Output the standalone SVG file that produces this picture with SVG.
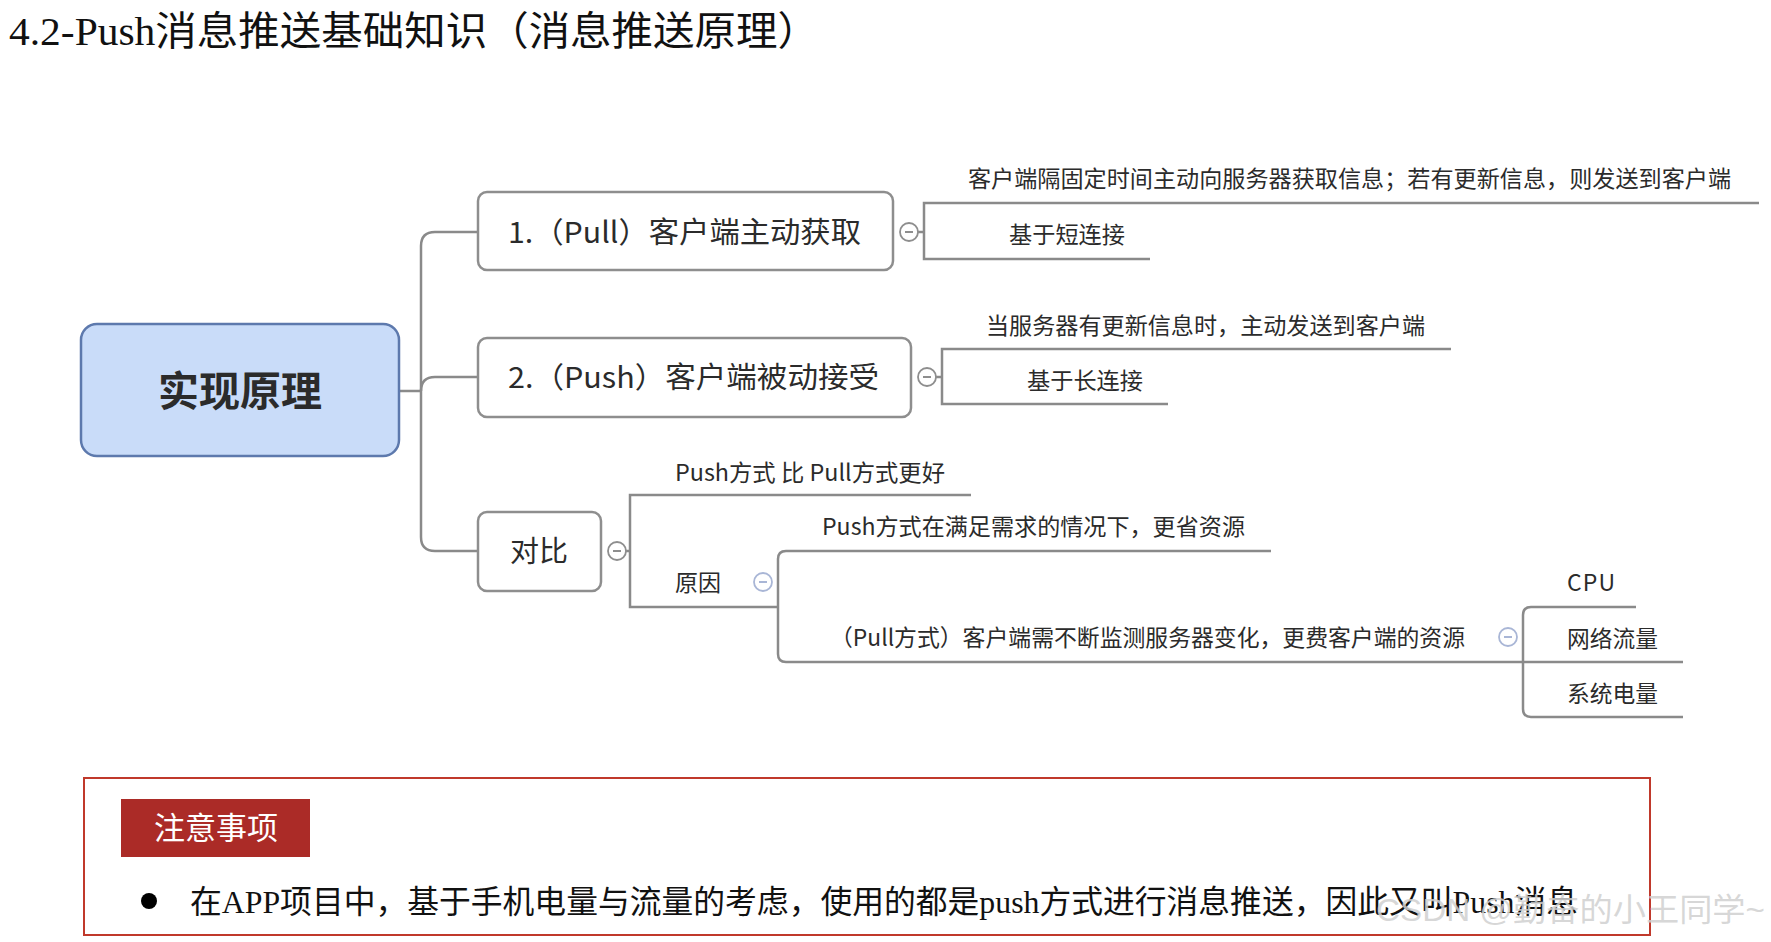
<svg xmlns="http://www.w3.org/2000/svg" width="1771" height="942" viewBox="0 0 1771 942">
<style>
.node{fill:#fff;stroke:#8e8e8e;stroke-width:2.5}
.con{fill:none;stroke:#8a8a8a;stroke-width:2.5}
.tog{fill:#fff;stroke:#8e8e8e;stroke-width:1.8}
.tog2{fill:#fff;stroke:#a9b6d6;stroke-width:1.8}
.dash{stroke:#8e8e8e;stroke-width:2}
.dash2{stroke:#a9b6d6;stroke-width:2}
.t{font-family:"Noto Sans CJK SC","Noto Sans",sans-serif;fill:#2b2b2b}
.s{font-family:"Liberation Serif","Noto Sans CJK SC",serif;fill:#111}
</style>
<rect width="1771" height="942" fill="#fff"/>
<text class="s" x="9" y="45" font-size="40" textLength="810" lengthAdjust="spacingAndGlyphs">4.2-Push消息推送基础知识（消息推送原理）</text>

<g id="connectors">
<path class="con" d="M399,391 H421"/>
<path class="con" d="M421,391 V246 Q421,232 435,232 H478"/>
<path class="con" d="M421,391 Q421,377 435,377 H478"/>
<path class="con" d="M421,391 V537 Q421,551 435,551 H478"/>
<path class="con" d="M918,232 H924"/>
<path class="con" d="M1759,203 H924 V259 H1150"/>
<path class="con" d="M936,377 H942"/>
<path class="con" d="M1451,349 H942 V404 H1168"/>
<path class="con" d="M626,551 H630"/>
<path class="con" d="M971,495 H630 V607 H778"/>
<path class="con" d="M1271,551 H786 Q778,551 778,559 V654 Q778,662 786,662 H1683"/>
<path class="con" d="M1636,607 H1531 Q1523,607 1523,615 V709 Q1523,717 1531,717 H1683"/>
</g>

<g id="root">
<rect x="81" y="324" width="318" height="132" rx="16" fill="#c9dcf9" stroke="#5d79ad" stroke-width="2.5"/>
<text class="t" x="240" y="406" font-size="41" font-weight="bold" text-anchor="middle" fill="#3a3a3a">实现原理</text>
</g>

<g id="pull">
<rect class="node" x="478" y="192" width="415" height="78" rx="9"/>
<text class="t" x="508" y="243" font-size="29" textLength="353" lengthAdjust="spacingAndGlyphs">1.（Pull）客户端主动获取</text>
<circle class="tog" cx="909" cy="232" r="9"/><line class="dash" x1="905" y1="232" x2="913" y2="232"/>
</g>
<g id="pull-desc"><text class="t" x="968" y="187" font-size="23" textLength="763" lengthAdjust="spacingAndGlyphs">客户端隔固定时间主动向服务器获取信息；若有更新信息，则发送到客户端</text></g>
<g id="pull-short"><text class="t" x="1009" y="243" font-size="23" textLength="116" lengthAdjust="spacingAndGlyphs">基于短连接</text></g>

<g id="push">
<rect class="node" x="478" y="338" width="433" height="79" rx="9"/>
<text class="t" x="508" y="388" font-size="29" textLength="371" lengthAdjust="spacingAndGlyphs">2.（Push）客户端被动接受</text>
<circle class="tog" cx="927" cy="377" r="9"/><line class="dash" x1="923" y1="377" x2="931" y2="377"/>
</g>
<g id="push-desc"><text class="t" x="986" y="334" font-size="23" textLength="439" lengthAdjust="spacingAndGlyphs">当服务器有更新信息时，主动发送到客户端</text></g>
<g id="push-long"><text class="t" x="1027" y="389" font-size="23" textLength="116" lengthAdjust="spacingAndGlyphs">基于长连接</text></g>

<g id="compare">
<rect class="node" x="478" y="512" width="123" height="79" rx="9"/>
<text class="t" x="539" y="562" font-size="29" text-anchor="middle">对比</text>
<circle class="tog" cx="617" cy="551" r="9"/><line class="dash" x1="613" y1="551" x2="621" y2="551"/>
</g>
<g id="better"><text class="t" x="675" y="481" font-size="23" textLength="270" lengthAdjust="spacingAndGlyphs">Push方式 比 Pull方式更好</text></g>
<g id="reason">
<text class="t" x="675" y="591" font-size="23" textLength="46" lengthAdjust="spacingAndGlyphs">原因</text>
<circle class="tog2" cx="763" cy="582" r="9"/><line class="dash2" x1="759" y1="582" x2="767" y2="582"/>
</g>
<g id="saves"><text class="t" x="822" y="535" font-size="23" textLength="423" lengthAdjust="spacingAndGlyphs">Push方式在满足需求的情况下，更省资源</text></g>
<g id="costs">
<text class="t" x="830" y="646" font-size="23" textLength="635" lengthAdjust="spacingAndGlyphs">（Pull方式）客户端需不断监测服务器变化，更费客户端的资源</text>
<circle class="tog2" cx="1508" cy="637" r="9"/><line class="dash2" x1="1504" y1="637" x2="1512" y2="637"/>
</g>
<g id="cpu"><text class="t" x="1567" y="591" font-size="23" textLength="48" lengthAdjust="spacing">CPU</text></g>
<g id="net"><text class="t" x="1567" y="647" font-size="23" textLength="91" lengthAdjust="spacingAndGlyphs">网络流量</text></g>
<g id="power"><text class="t" x="1567" y="702" font-size="23" textLength="91" lengthAdjust="spacingAndGlyphs">系统电量</text></g>

<g id="note">
<rect x="84" y="778" width="1566" height="157" fill="none" stroke="#c0392b" stroke-width="2"/>
<rect x="121" y="799" width="189" height="58" fill="#ab2b27"/>
<text class="s" x="216" y="839" font-size="31" fill="#fff" text-anchor="middle" style="fill:#fff">注意事项</text>
<circle cx="149" cy="901" r="8" fill="#000"/>
<text class="s" x="190" y="913" font-size="32" textLength="1388" lengthAdjust="spacingAndGlyphs">在APP项目中，基于手机电量与流量的考虑，使用的都是push方式进行消息推送，因此又叫Push消息</text>
</g>
<text x="1376" y="921" font-family="Liberation Sans,Noto Sans CJK SC,sans-serif" font-size="32" fill="#d0d0d0" fill-opacity="0.85" textLength="389" lengthAdjust="spacingAndGlyphs">CSDN @勤奋的小王同学~</text>
</svg>
